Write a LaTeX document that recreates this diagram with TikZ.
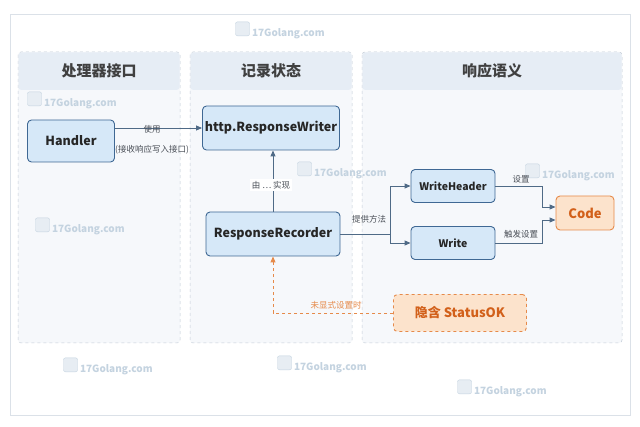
\documentclass[tikz,border=0pt]{standalone}
\usepackage{fontspec}
\setmainfont{Noto Sans CJK SC}
\usetikzlibrary{arrows.meta,calc}
\definecolor{bfill}{HTML}{D6E8F8}
\definecolor{bline}{HTML}{3F6894}
\definecolor{ofill}{HTML}{FCE3CC}
\definecolor{oline}{HTML}{E68A4A}
\definecolor{otext}{HTML}{D2601A}
\definecolor{pan}{HTML}{F6F8FB}
\definecolor{panh}{HTML}{E6EDF5}
\definecolor{panl}{HTML}{C3CDD8}
\definecolor{edge}{HTML}{4F6A86}
\definecolor{lab}{HTML}{4A4F57}
\definecolor{wm}{HTML}{C4D3E0}
\tikzset{
  box/.style={draw=bline,fill=bfill,rounded corners=4pt,line width=0.9pt,font=\bfseries\fontsize{12.5}{14}\selectfont,text=black!85,inner sep=2pt},
  sbox/.style={box,font=\bfseries\fontsize{10.5}{12}\selectfont},
  obox/.style={draw=oline,fill=ofill,rounded corners=4pt,line width=0.9pt,text=otext,font=\bfseries\fontsize{13}{15}\selectfont},
  panel/.style={draw=panl,dashed,fill=pan,rounded corners=3pt,line width=0.5pt},
  ptitle/.style={font=\bfseries\fontsize{15}{17}\selectfont,text=black!75},
  con/.style={draw=edge,line width=0.9pt,-{Triangle[length=6pt,width=5pt]}},
  lbl/.style={font=\fontsize{8.5}{10}\selectfont,text=lab},
  wmk/.style={font=\bfseries\fontsize{10}{11}\selectfont,text=wm},
}
\begin{document}
\begin{tikzpicture}[x=1pt,y=-1pt]
\useasboundingbox (0,0) rectangle (640,427);
\fill[white] (0,0) rectangle (640,427);
\draw[panl!60,line width=0.4pt] (10,14) rectangle (630,415);
% panels
\foreach \a/\b/\t/\n in {18/180/处理器接口/p1,190/352/记录状态/p2,362/622/响应语义/p3}{
  \draw[panel] (\a,52) rectangle (\b,343);
  \fill[panh,rounded corners=3pt] (\a+0.5,52.5) rectangle (\b-0.5,90);
  \node[ptitle] (\n) at ({(\a+\b)/2},71) {\t};
}
% watermarks
\foreach \x/\y/\m in {280/30/w1,72/100/w2,80/226/w3,342/170/w4,570/172/w5,108/366/w6,322/364/w7,502/388/w8}{
  \node[wmk] (\m) at (\x,\y) {\tikz[x=1pt,y=1pt]\draw[wm,fill=wm!40,rounded corners=2pt](0,0)rectangle(14,14);\ 17Golang.com};
}
% nodes
\node[box,minimum width=87pt,minimum height=42pt] (h) at (71,141) {Handler};
\node[box,minimum width=137pt,minimum height=44pt] (rw) at (271,128) {http.ResponseWriter};
\node[box,minimum width=134pt,minimum height=44pt] (rr) at (273,234) {ResponseRecorder};
\node[sbox,minimum width=84pt,minimum height=33pt] (wh) at (453,186) {WriteHeader};
\node[sbox,minimum width=84pt,minimum height=33pt] (w) at (453,243) {Write};
\node[obox,minimum width=58pt,minimum height=34pt] (c) at (585,213) {Code};
\node[obox,dashed,minimum width=133pt,minimum height=37pt] (s) at (460,313) {隐含 StatusOK};
% edges
\draw[con] (h.east |- 0,128) -- (rw.west |- 0,128);
\node[lbl] (l1) at (152,129) {使用};
\node[lbl] (l2) at (152,150) {(接收响应写入接口)};
\draw[con] (rr.north) -- (rr.north |- rw.south);
\node[lbl,fill=white,inner sep=2pt] (l3) at (271,185) {由 … 实现};
\coordinate (br) at (390,234);
\draw[edge,line width=0.9pt] (rr.east) -- (br);
\draw[con] (br) |- (wh.west);
\draw[con] (br) |- (w.west);
\node[lbl] (l4) at (369,219) {提供方法};
\draw[con] (wh.east) -| (542,207) -- (c.west |- 0,207);
\draw[con] (w.east) -| (542,220) -- (c.west |- 0,220);
\node[lbl] (l5) at (521,179) {设置};
\node[lbl] (l6) at (521,234) {触发设置};
\draw[oline,line width=0.9pt,dashed,-{Triangle[length=6pt,width=5pt]}] (s.west) -| (rr.south);
\node[lbl,text=oline] (l7) at (336,305) {未显式设置时};
\end{tikzpicture}
\end{document}
